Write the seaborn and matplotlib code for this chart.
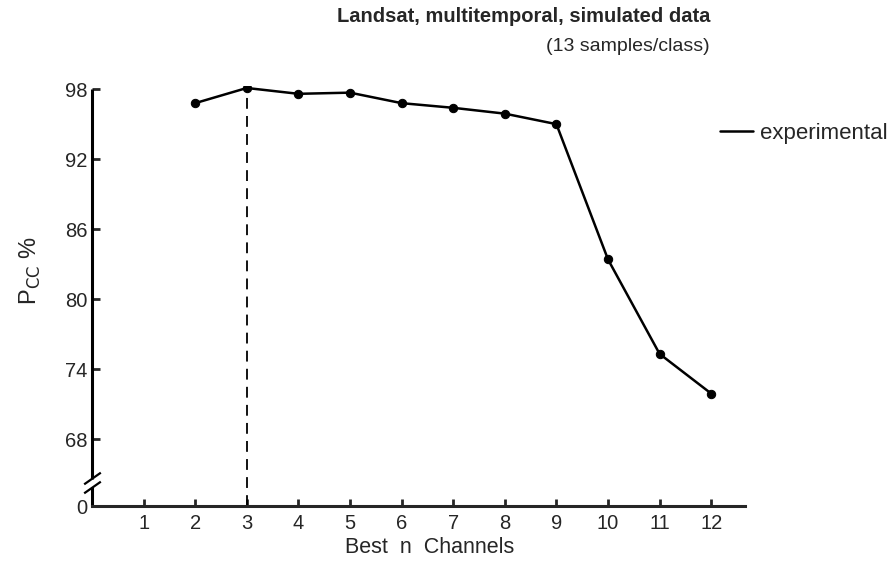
import numpy as np
import pandas as pd
import matplotlib
matplotlib.use("Agg")
import matplotlib.pyplot as plt
import matplotlib.transforms as mtransforms
from matplotlib.lines import Line2D
import seaborn as sns

# ---- data ----
channels = [2, 3, 4, 5, 6, 7, 8, 9, 10, 11, 12]
pcc = [96.8, 98.1, 97.6, 97.7, 96.8, 96.4, 95.9, 95.0, 83.4, 75.3, 71.9]
x_ticks = [1, 2, 3, 4, 5, 6, 7, 8, 9, 10, 11, 12]
y_tick_labels = ["0", "68", "74", "80", "86", "92", "98"]
y_tick_values = [68, 74, 80, 86, 92, 98]
best_n = 3
series_name = "experimental"

Y_ZERO = 62.26  # position of the broken-axis zero on the plot scale

sns.set_style("ticks")
plt.rcParams['font.family'] = ['Liberation Sans', 'DejaVu Sans']

df = pd.DataFrame({"n": channels, "pcc": pcc})

fig = plt.figure(figsize=(8.93, 5.62), dpi=100)
ax = fig.add_axes([0.103, 0.0996, 0.731, 0.748])

sns.lineplot(data=df, x="n", y="pcc", ax=ax, color="black", linewidth=1.8,
             marker="o", markersize=6, markeredgecolor="black", legend=False)

ax.vlines(best_n, Y_ZERO, pcc[channels.index(best_n)] - 0.1, colors="black",
          linestyles=(0, (6, 4)), linewidth=1.3)

ax.set_xlim(0, 12.65)
ax.set_ylim(Y_ZERO, 98.3)
ax.set_xticks(x_ticks)
ax.set_xticklabels([str(v) for v in x_ticks], fontsize=14.5)
ax.set_yticks([Y_ZERO] + y_tick_values)
ax.set_yticklabels(y_tick_labels, fontsize=14.5)
ax.tick_params(axis="x", direction="in", length=5, width=2, pad=6)
ax.tick_params(axis="y", direction="in", length=6, width=2, pad=3)
ax.yaxis.get_major_ticks()[0].tick1line.set_visible(False)

for s in ["top", "right", "left"]:
    ax.spines[s].set_visible(False)
ax.spines["bottom"].set_linewidth(2.2)

# broken left axis
trans = mtransforms.blended_transform_factory(ax.transAxes, ax.transData)
ax.plot([0, 0], [Y_ZERO, 63.9], transform=trans, color="black", lw=2.2,
        clip_on=False, solid_capstyle="butt")
ax.plot([0, 0], [64.6, 98], transform=trans, color="black", lw=2.2,
        clip_on=False, solid_capstyle="butt")
for yb in [63.85, 64.65]:
    ax.plot([0], [yb], transform=trans, marker=[(-1, -0.7), (1, 0.7)],
            markersize=12, markeredgewidth=1.6, color="black",
            markerfacecolor="none", clip_on=False, linestyle="none")

ax.set_xlabel("Best  n  Channels", fontsize=15.5)
ax.xaxis.set_label_coords(0.518, -0.074)
ax.set_ylabel(r"P$_{\mathrm{CC}}$ %", fontsize=17)
ax.yaxis.set_label_coords(-0.075, 0.56)

fig.text(0.795, 0.970, "Landsat, multitemporal, simulated data", fontsize=14.5,
         fontweight="bold", ha="right", va="center")
fig.text(0.795, 0.918, "(13 samples/class)", fontsize=14, ha="right", va="center")

handle = Line2D([], [], color="black", lw=1.8)
fig.legend([handle], [series_name], loc="center left",
           bbox_to_anchor=(0.806, 1 - 133 / 562), bbox_transform=fig.transFigure,
           frameon=False, fontsize=16, handlelength=1.5, handletextpad=0.3,
           borderpad=0, borderaxespad=0)

fig.savefig("out.png", dpi=100)
